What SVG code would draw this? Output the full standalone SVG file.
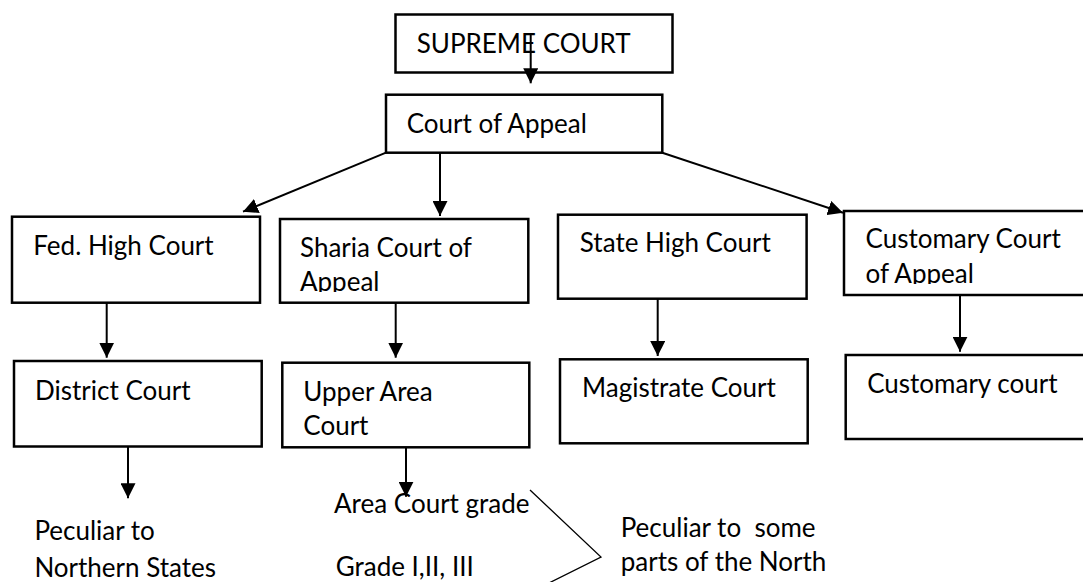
<svg xmlns="http://www.w3.org/2000/svg" width="1083" height="582" viewBox="0 0 1083 582">
<style>
  .box { fill: #ffffff; stroke: #000000; stroke-width: 2.5; }
  .t { font-family: Lato, "Liberation Sans", sans-serif; font-size: 26px; fill: #000000; }
  .c { stroke: #000000; stroke-width: 2; fill: none; }
  .thin { stroke: #000000; stroke-width: 1.3; fill: none; }
</style>
<defs>
  <marker id="ah" markerUnits="userSpaceOnUse" markerWidth="15" markerHeight="15" viewBox="0 0 14 14" refX="14" refY="7" orient="auto">
    <path d="M0,0 L14,7 L0,14 z" fill="#000000"/>
  </marker>
  <clipPath id="clipSharia"><rect x="280" y="219" width="248" height="73"/></clipPath>
  <clipPath id="clipCust"><rect x="844" y="211" width="239" height="73"/></clipPath>
  <clipPath id="clipUpper"><rect x="282" y="363" width="247" height="73.5"/></clipPath>
</defs>

<g id="supreme-court">
  <rect class="box" x="395.5" y="14.5" width="277" height="58"/>
  <text class="t" x="416.7" y="53.3">SUPREME COURT</text>
</g>
<g id="court-of-appeal">
  <rect class="box" x="386" y="94.7" width="276.3" height="58"/>
  <text class="t" x="406.7" y="133.3">Court of Appeal</text>
</g>
<g id="fed-high-court">
  <rect class="box" x="12" y="216.7" width="248" height="86"/>
  <text class="t" x="33.3" y="255">Fed. High Court</text>
</g>
<g id="sharia-court-of-appeal">
  <rect class="box" x="280" y="219" width="248.3" height="83.7"/>
  <g clip-path="url(#clipSharia)">
    <text class="t" x="300" y="256.7">Sharia Court of</text>
    <text class="t" x="300" y="291">Appeal</text>
  </g>
</g>
<g id="state-high-court">
  <rect class="box" x="558" y="214.7" width="248.6" height="84"/>
  <text class="t" x="579.8" y="251.7">State High Court</text>
</g>
<g id="customary-court-of-appeal">
  <rect class="box" x="844" y="211" width="245" height="84"/>
  <g clip-path="url(#clipCust)">
    <text class="t" x="865.5" y="248.3">Customary Court</text>
    <text class="t" x="865.5" y="282.6">of Appeal</text>
  </g>
</g>
<g id="district-court">
  <rect class="box" x="14" y="361" width="247.7" height="85.5"/>
  <text class="t" x="35" y="400">District Court</text>
</g>
<g id="upper-area-court">
  <rect class="box" x="282.3" y="362.7" width="247" height="84.6"/>
  <g clip-path="url(#clipUpper)">
    <text class="t" x="303.3" y="401">Upper Area</text>
    <text class="t" x="303.3" y="435.3">Court</text>
  </g>
</g>
<g id="magistrate-court">
  <rect class="box" x="560" y="359.3" width="247.7" height="84"/>
  <text class="t" x="582" y="396.7">Magistrate Court</text>
</g>
<g id="customary-court">
  <rect class="box" x="845.7" y="355" width="245" height="84"/>
  <text class="t" x="867.2" y="393.3">Customary court</text>
</g>
<g id="northern-note">
  <text class="t" x="34.4" y="540">Peculiar to</text>
  <text class="t" x="34.4" y="576.7">Northern States</text>
</g>
<g id="area-court-grade">
  <text class="t" x="334" y="513">Area Court grade</text>
  <text class="t" x="335.7" y="576">Grade I,II, III</text>
</g>
<g id="north-parts-note">
  <text class="t" x="620.7" y="536.7" xml:space="preserve">Peculiar to  some</text>
  <text class="t" x="620.7" y="571">parts of the North</text>
</g>

<g id="connectors">
  <line class="c" x1="530.7" y1="33" x2="530.7" y2="83.3" marker-end="url(#ah)"/>
  <line class="c" x1="386" y1="152.7" x2="243" y2="211.7" marker-end="url(#ah)"/>
  <line class="c" x1="440" y1="152.7" x2="440" y2="216" marker-end="url(#ah)"/>
  <line class="c" x1="662.3" y1="152.7" x2="843" y2="212.7" marker-end="url(#ah)"/>
  <line class="c" x1="106.7" y1="302.7" x2="106.7" y2="357.7" marker-end="url(#ah)"/>
  <line class="c" x1="395.7" y1="302.7" x2="395.7" y2="357.7" marker-end="url(#ah)"/>
  <line class="c" x1="657.7" y1="298.7" x2="657.7" y2="356" marker-end="url(#ah)"/>
  <line class="c" x1="960" y1="295" x2="960" y2="351.7" marker-end="url(#ah)"/>
  <line class="c" x1="128" y1="446.5" x2="128" y2="498.3" marker-end="url(#ah)"/>
  <line class="c" x1="406" y1="447.3" x2="406" y2="496.7" marker-end="url(#ah)"/>
  <polyline class="thin" points="530,490 601,557 515,600"/>
</g>
</svg>
